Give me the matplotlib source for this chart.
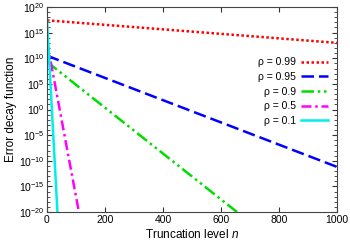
import matplotlib
matplotlib.use("Agg")
import matplotlib.pyplot as plt
import numpy as np
from matplotlib.ticker import FixedLocator, FuncFormatter

plt.rcParams['font.family'] = ['Liberation Sans', 'DejaVu Sans']
plt.rcParams['mathtext.fontset'] = 'custom'
plt.rcParams['mathtext.rm'] = 'Liberation Sans'
plt.rcParams['mathtext.it'] = 'Liberation Sans:italic'

labels = ["ρ = 0.99", "ρ = 0.95", "ρ = 0.9", "ρ = 0.5", "ρ = 0.1"]
colors = ["#ff0000", "#0000ff", "#00dd00", "#ff00ff", "#00eeee"]
# endpoints (n, log10 value)
n_vals = [[0, 1000], [0, 1000], [0, 655], [0, 110], [0, 36]]
log_vals = [[17.4, 13.0], [10.5, -11.2], [9.3, -20.0], [13.2, -20.0], [17.5, -20.0]]
styles = [(0, (1, 1)), (0, (5, 2)), (0, (5, 1.5, 1, 1.5, 1, 1.5)), (0, (4, 1.5, 1, 1.5)), '-']

fig = plt.figure(figsize=(3.5, 2.45), dpi=100)
ax = fig.add_axes([47/350, 1 - 212/245, 290/350, 205/245])

for n, lv, c, ls, lab in zip(n_vals, log_vals, colors, styles, labels):
    ax.plot(n, 10.0 ** np.array(lv), color=c, linestyle=ls, lw=1.8, label=lab)

ax.set_yscale('log')
ax.set_xlim(0, 1000)
ax.set_ylim(1e-20, 1e20)
ax.set_xticks([0, 200, 400, 600, 800, 1000])
ax.yaxis.set_major_locator(FixedLocator([10.0 ** k for k in range(-20, 21, 5)]))
ax.yaxis.set_minor_locator(FixedLocator([10.0 ** k for k in range(-20, 21) if k % 5 != 0]))
ax.yaxis.set_major_formatter(FuncFormatter(lambda v, p: r'$10^{%d}$' % round(np.log10(v))))
ax.yaxis.set_minor_formatter(FuncFormatter(lambda v, p: ''))
ax.tick_params(which='both', direction='in', top=True, right=True, labelsize=7.5, color='#333333')
ax.tick_params(which='major', length=3.5, pad=2)
ax.tick_params(which='minor', length=2)
for s in ax.spines.values():
    s.set_color('#444444')
    s.set_linewidth(0.8)

ax.set_xlabel(r'Truncation level $\mathit{n}$', fontsize=8.5, labelpad=2)
ax.set_ylabel('Error decay function', fontsize=8.5, labelpad=1)

leg = ax.legend(loc='upper right', bbox_to_anchor=(0.97, 0.755), frameon=False, fontsize=7.5,
                markerfirst=False, handlelength=2.6, labelspacing=0.45, handletextpad=0.5,
                borderaxespad=0, borderpad=0)

fig.savefig('out.png', dpi=100)
